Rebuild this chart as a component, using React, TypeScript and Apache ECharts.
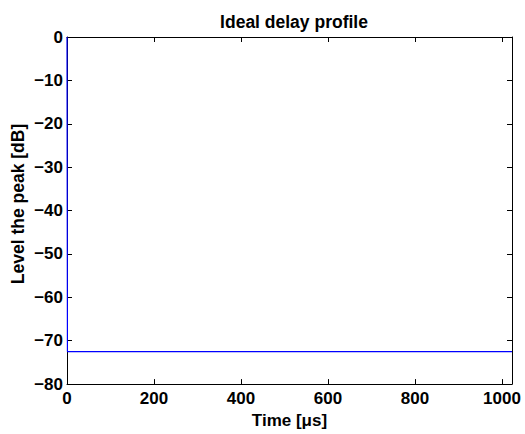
import React, { useEffect, useRef } from "react";
import * as echarts from "echarts";

const times = [0, 1, 1023];
const levels = [0, -72.5, -72.5];
const xTicks = [0, 200, 400, 600, 800, 1000];
const yTicks = [0, -10, -20, -30, -40, -50, -60, -70, -80];
const titleText = "Ideal delay profile";
const xLabel = "Time [\u03bcs]";
const yLabel = "Level the peak [dB]";

const FONT = "'Liberation Sans', Arial, Helvetica, sans-serif";
const fmt = (v: number) => (v < 0 ? "\u2212" + Math.abs(v) : String(v));

export default function App() {
  const ref = useRef<HTMLDivElement>(null);
  useEffect(() => {
    if (!ref.current) return;
    const chart = echarts.init(ref.current, undefined, { renderer: "svg" });
    const axisLine = { show: true, onZero: false, lineStyle: { color: "#000", width: 1 } };
    const tick = { show: true, inside: true, length: 5, lineStyle: { color: "#000", width: 1 } };
    const labelStyle = { color: "#000", fontFamily: FONT, fontWeight: "bold" as const, fontSize: 17 };
    chart.setOption({
      animation: false,
      backgroundColor: "#fff",
      title: {
        text: titleText,
        left: 289,
        top: 8,
        textAlign: "center",
        textStyle: { color: "#000", fontFamily: FONT, fontWeight: "bold", fontSize: 17.5 },
      },
      graphic: [
        {
          type: "text",
          x: 17.5,
          y: 204,
          rotation: Math.PI / 2,
          style: {
            text: yLabel,
            fill: "#000",
            font: `bold 17.5px ${FONT}`,
            align: "center",
            verticalAlign: "middle",
          },
        },
      ],
      grid: { left: 67, right: 13, top: 37, bottom: 46, containLabel: false },
      xAxis: [
        {
          type: "value",
          min: 0,
          max: 1023,
          interval: 200,
          position: "bottom",
          name: xLabel,
          nameLocation: "middle",
          nameGap: 25,
          nameTextStyle: labelStyle,
          axisLine,
          axisTick: tick,
          axisLabel: {
            ...labelStyle,
            margin: 6,
            showMaxLabel: false,
            formatter: (v: number) => (xTicks.includes(v) ? fmt(v) : ""),
          },
          splitLine: { show: false },
        },
        {
          type: "value",
          min: 0,
          max: 1023,
          interval: 200,
          position: "top",
          axisLine,
          axisTick: tick,
          axisLabel: { show: false },
          splitLine: { show: false },
        },
      ],
      yAxis: [
        {
          type: "value",
          min: -80,
          max: 0,
          interval: 10,
          position: "left",
          axisLine,
          axisTick: tick,
          axisLabel: {
            ...labelStyle,
            margin: 4,
            formatter: (v: number) => (yTicks.includes(v) ? fmt(v) : ""),
          },
          splitLine: { show: false },
        },
        {
          type: "value",
          min: -80,
          max: 0,
          interval: 10,
          position: "right",
          axisLine,
          axisTick: tick,
          axisLabel: { show: false },
          splitLine: { show: false },
        },
      ],
      series: [
        {
          type: "line",
          data: times.map((t, i) => [t, levels[i]]),
          showSymbol: false,
          lineStyle: { color: "#0000ff", width: 1.2 },
          itemStyle: { color: "#0000ff" },
          silent: true,
        },
      ],
    });
    return () => chart.dispose();
  }, []);
  return (
    <div
      ref={ref}
      style={{ position: "fixed", left: 0, top: 0, width: 525, height: 434, background: "#fff" }}
    />
  );
}
